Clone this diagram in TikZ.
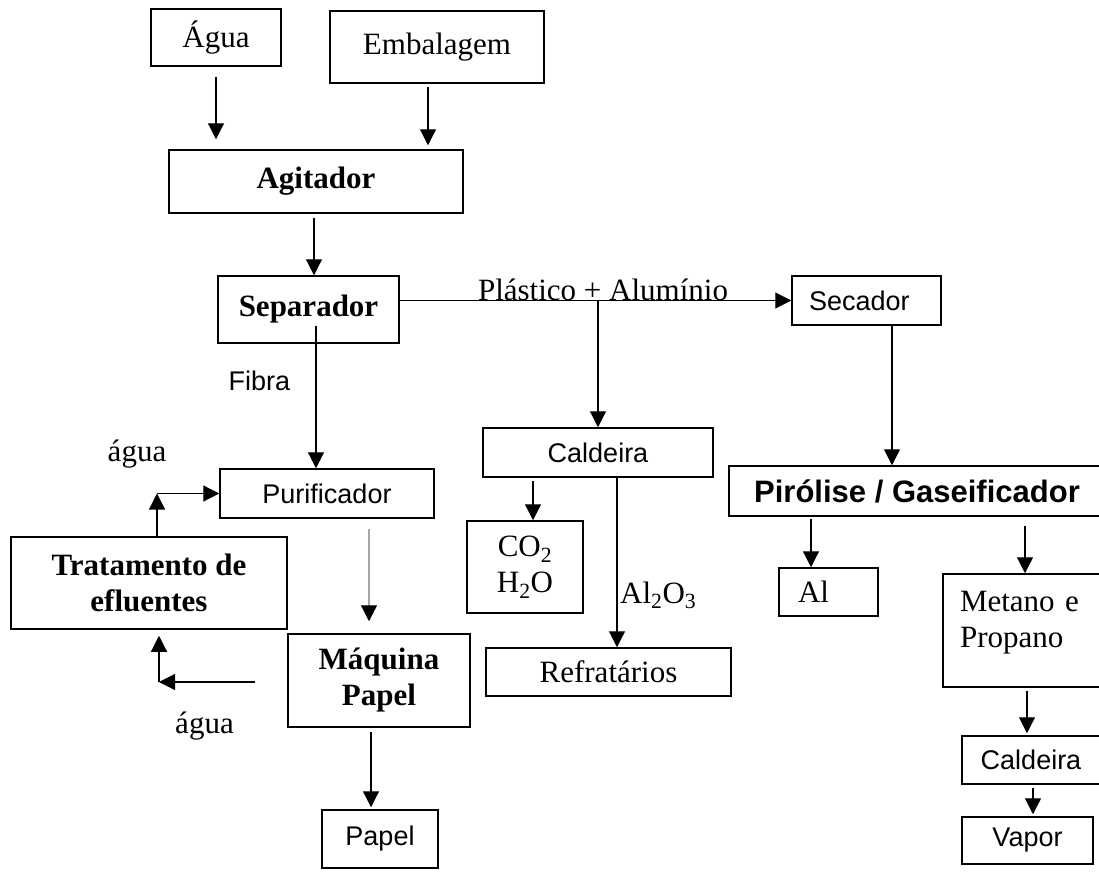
\documentclass[tikz,border=0pt]{standalone}
\usepackage{fontspec}
\setmainfont{Liberation Serif}
\setsansfont{Liberation Sans}
\usepackage{tikz}
\usetikzlibrary{arrows.meta}
\tikzstyle{caixa} = [rectangle, draw=black, line width=1.5pt, inner sep=0pt, align=center, font=\fontsize{31}{36}\selectfont]
\tikzstyle{caixab} = [caixa, font=\bfseries\fontsize{31}{36}\selectfont]
\tikzstyle{caixasf} = [caixa, font=\sffamily\fontsize{27}{32}\selectfont]
\tikzstyle{rotulo} = [inner sep=0pt, font=\fontsize{31}{36}\selectfont]
\tikzstyle{rotulosf} = [inner sep=0pt, font=\sffamily\fontsize{27}{32}\selectfont]
\tikzstyle{arrow} = [line width=1.2pt,-{Triangle[length=16pt,width=16pt]}]

\begin{document}
\begin{tikzpicture}[x=1pt,y=-1pt]
	\useasboundingbox (0,0) rectangle (1099,872);
	\clip (0,0) rectangle (1099,872);
	\node (agua) [caixa, minimum width=130pt, minimum height=57pt] at (216,37.5) {Água};
	\node (embalagem) [caixa, minimum width=214pt, minimum height=72pt] at (437,47) {Embalagem};
	\node (agitador) [caixab, minimum width=294pt, minimum height=63pt] at (316,181.5) {Agitador};
	\node (separador) [caixab, minimum width=181pt, minimum height=67pt] at (308.5,309.5) {Separador};
	\node (secador) [caixasf, minimum width=149pt, minimum height=49pt, text width=115pt, inner xsep=17pt, align=left] at (866.5,300.5) {Secador};
	\node (caldeira) [caixasf, minimum width=230pt, minimum height=49pt] at (598,452.5) {Caldeira};
	\node (pirolise) [caixa, font=\sffamily\bfseries\fontsize{31}{36}\selectfont, minimum width=376pt, minimum height=50pt] at (917,491) {Pirólise / Gaseificador};
	\node (purificador) [caixasf, minimum width=214pt, minimum height=49pt] at (327,493.5) {Purificador};
	\node (tratamento) [caixab, minimum width=276pt, minimum height=92pt] at (149,583) {Tratamento de\\efluentes};
	\node (gases) [caixa, minimum width=116pt, minimum height=92pt] at (525,567) {CO\textsubscript{2}\\H\textsubscript{2}O};
	\node (aluminio) [caixa, minimum width=99pt, minimum height=48pt, text width=61pt, inner xsep=19pt, align=left] at (828.5,592) {Al};
	\node (metano) [caixa, minimum width=164pt, minimum height=113pt, text width=130pt, inner xsep=17pt, align=left, text depth=58pt] at (1025,630.5) {Metano e\\Propano};
	\node (refratarios) [caixa, minimum width=245pt, minimum height=48pt] at (608.5,672) {Refratários};
	\node (maquina) [caixab, minimum width=182pt, minimum height=93pt] at (379,680.5) {Máquina\\Papel};
	\node (papel) [caixasf, minimum width=116pt, minimum height=58pt] at (380,839) {Papel};
	\node (caldeiraB) [caixasf, minimum width=138pt, minimum height=48pt] at (1031,760) {Caldeira};
	\node (vapor) [caixasf, minimum width=131pt, minimum height=47pt] at (1027.5,840.5) {Vapor};

	\node (plastal) [rotulo, anchor=base] at (603,300) {Plástico + Alumínio};
	\node (fibra) [rotulosf] at (259.5,381) {Fibra};
	\node (aguaA) [rotulo] at (137,454) {água};
	\node (aguaB) [rotulo] at (204.5,726) {água};
	\node (alumina) [rotulo, anchor=base west] at (620,603) {Al\textsubscript{2}O\textsubscript{3}};
	\coordinate (saidaagua) at (255,682);

	\draw [arrow, shorten <=10pt, shorten >=10pt] (agua.south) -- (agua.south |- agitador.north);
	\draw [arrow, shorten <=3pt, shorten >=4pt] ([xshift=-9pt]embalagem.south) -- ([xshift=-9pt]embalagem.south |- agitador.north);
	\draw [arrow, shorten <=4pt] ([xshift=-2pt]agitador.south) -- ([xshift=-2pt]agitador.south |- separador.north);
	\draw [arrow] (separador.east |- secador.west) -- (secador.west);
	\draw [arrow] (caldeira.north |- secador.west) -- (caldeira.north);
	\draw [arrow] ([xshift=25.5pt]secador.south) -- ([xshift=25.5pt]secador.south |- pirolise.north);
	\draw [arrow] ([xshift=7.5pt,yshift=18pt]separador.south) -- ([xshift=7.5pt]separador.south |- purificador.north);
	\draw [arrow] ([xshift=8pt]tratamento.north) -- ([xshift=8pt]tratamento.north |- purificador.west);
	\draw [arrow] ([xshift=8pt]tratamento.north |- purificador.west) -- (purificador.west);
	\draw [arrow, draw=black!35, -{Triangle[length=16pt,width=16pt,color=black]}, shorten <=10pt, shorten >=12pt] ([xshift=42pt]purificador.south) -- ([xshift=42pt]purificador.south |- maquina.north);
	\draw [arrow] (saidaagua) -- ([xshift=10pt]tratamento.south |- saidaagua);
	\draw [arrow, shorten >=6pt] ([xshift=10pt]tratamento.south |- saidaagua) -- ([xshift=10pt]tratamento.south);
	\draw [arrow, shorten <=4pt, shorten >=2pt] ([xshift=-8pt]maquina.south) -- ([xshift=-8pt]maquina.south |- papel.north);
	\draw [arrow, shorten <=3pt] ([xshift=8pt]gases.north |- caldeira.south) -- ([xshift=8pt]gases.north);
	\draw [arrow] ([xshift=8.5pt]refratarios.north |- caldeira.south) -- ([xshift=8.5pt]refratarios.north);
	\draw [arrow, shorten <=2pt] ([xshift=-17.5pt]aluminio.north |- pirolise.south) -- ([xshift=-17.5pt]aluminio.north);
	\draw [arrow, shorten <=9pt] (metano.north |- pirolise.south) -- (metano.north);
	\draw [arrow, shorten <=3pt, shorten >=2pt] ([xshift=2pt]metano.south) -- ([xshift=2pt]metano.south |- caldeiraB.north);
	\draw [arrow, shorten <=3pt, shorten >=2pt] ([xshift=2pt]caldeiraB.south) -- ([xshift=2pt]caldeiraB.south |- vapor.north);
\end{tikzpicture}
\end{document}
